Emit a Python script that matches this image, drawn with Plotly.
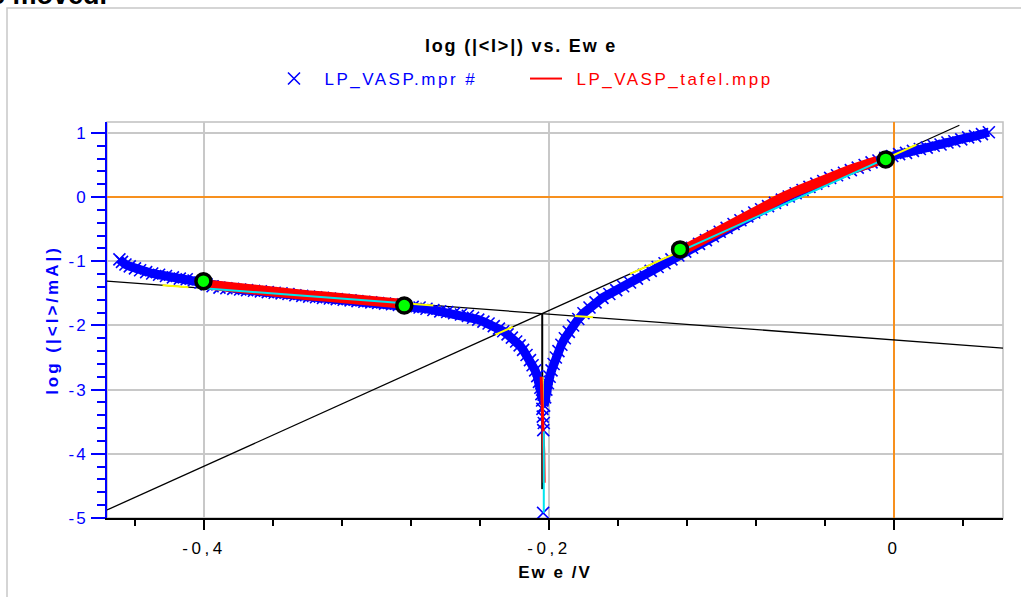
import plotly.graph_objects as go

# ---------------- data ----------------
# measured curve, cathodic branch (E / V, log(|I|/mA))
cath_E = [-0.4490, -0.4475, -0.4455, -0.4430, -0.4400, -0.4370, -0.4335, -0.4300, -0.4260, -0.4220,
          -0.4180, -0.4140, -0.4100, -0.4060, -0.4020, -0.3985, -0.3950, -0.3910, -0.3870, -0.3830,
          -0.3790, -0.3750, -0.3710, -0.3670, -0.3630, -0.3590, -0.3550, -0.3510, -0.3470, -0.3430,
          -0.3390, -0.3350, -0.3310, -0.3270, -0.3230, -0.3190, -0.3150, -0.3110, -0.3070, -0.3030,
          -0.2990, -0.2950, -0.2910, -0.2870, -0.2830, -0.2790, -0.2750, -0.2710, -0.2670, -0.2630,
          -0.2590, -0.2550, -0.2510, -0.2470, -0.2440, -0.2410, -0.2380, -0.2350, -0.2320, -0.2290,
          -0.2265, -0.2240, -0.2215, -0.2190, -0.2170, -0.2150, -0.2130, -0.2110, -0.2095, -0.2080,
          -0.2068, -0.2058, -0.2050, -0.2044, -0.2040]
cath_logI = [-0.97, -1.01, -1.05, -1.08, -1.11, -1.14, -1.17, -1.19, -1.21, -1.23,
             -1.25, -1.27, -1.28, -1.30, -1.33, -1.36, -1.39, -1.41, -1.42, -1.43,
             -1.44, -1.45, -1.46, -1.47, -1.48, -1.49, -1.50, -1.51, -1.53, -1.54,
             -1.55, -1.56, -1.57, -1.58, -1.59, -1.60, -1.61, -1.62, -1.63, -1.64,
             -1.65, -1.66, -1.67, -1.68, -1.70, -1.71, -1.72, -1.74, -1.76, -1.78,
             -1.79, -1.81, -1.83, -1.85, -1.88, -1.91, -1.94, -1.97, -2.01, -2.05,
             -2.09, -2.14, -2.19, -2.25, -2.31, -2.38, -2.46, -2.54, -2.62, -2.70,
             -2.79, -2.88, -2.97, -3.07, -3.17]
# isolated points around the current minimum
min_E = [-0.2038, -0.2036, -0.2030, -0.2033, -0.2034]
min_logI = [-3.30, -3.42, -3.52, -3.63, -4.92]
# measured curve, anodic branch
anod_E = [-0.2028, -0.2022, -0.2015, -0.2006, -0.1996, -0.1985, -0.1973, -0.1960, -0.1945, -0.1928,
          -0.1908, -0.1885, -0.1860, -0.1830, -0.1800, -0.1765, -0.1730, -0.1690, -0.1650, -0.1610,
          -0.1570, -0.1530, -0.1490, -0.1450, -0.1410, -0.1370, -0.1330, -0.1290, -0.1250, -0.1210,
          -0.1170, -0.1130, -0.1090, -0.1050, -0.1010, -0.0970, -0.0930, -0.0890, -0.0850, -0.0810,
          -0.0770, -0.0730, -0.0690, -0.0650, -0.0610, -0.0570, -0.0530, -0.0490, -0.0450, -0.0410,
          -0.0370, -0.0330, -0.0290, -0.0250, -0.0210, -0.0170, -0.0130, -0.0090, -0.0050, -0.0010,
          0.0030, 0.0070, 0.0110, 0.0150, 0.0190, 0.0230, 0.0270, 0.0310, 0.0350, 0.0390,
          0.0430, 0.0470, 0.0510, 0.0550]
anod_logI = [-3.25, -3.12, -3.00, -2.90, -2.80, -2.70, -2.60, -2.50, -2.40, -2.30,
             -2.20, -2.10, -2.00, -1.90, -1.81, -1.72, -1.64, -1.57, -1.51, -1.45,
             -1.39, -1.33, -1.27, -1.21, -1.15, -1.09, -1.03, -0.97, -0.91, -0.85,
             -0.79, -0.73, -0.67, -0.61, -0.54, -0.48, -0.42, -0.36, -0.30, -0.24,
             -0.19, -0.14, -0.09, -0.04, 0.01, 0.06, 0.11, 0.16, 0.21, 0.25,
             0.30, 0.34, 0.38, 0.42, 0.46, 0.50, 0.54, 0.57, 0.61, 0.64,
             0.67, 0.69, 0.72, 0.75, 0.77, 0.80, 0.82, 0.85, 0.87, 0.90,
             0.93, 0.95, 0.98, 1.01]

# Tafel-window data (red)
tafel_cath_E = [-0.3990, -0.3900, -0.3800, -0.3700, -0.3600, -0.3500, -0.3400, -0.3300,
                -0.3200, -0.3100, -0.3000, -0.2900, -0.2860]
tafel_cath_logI = [-1.36, -1.39, -1.42, -1.45, -1.47, -1.50, -1.53, -1.55,
                   -1.58, -1.61, -1.63, -1.65, -1.66]
tafel_anod_E = [-0.1225, -0.1150, -0.1050, -0.0950, -0.0850, -0.0750, -0.0650, -0.0550,
                -0.0450, -0.0350, -0.0250, -0.0150, -0.0100]
tafel_anod_logI = [-0.83, -0.72, -0.57, -0.43, -0.28, -0.15, -0.01, 0.11,
                   0.23, 0.34, 0.43, 0.52, 0.56]
tafel_min_E = [-0.2045, -0.2040, -0.2032, -0.2030, -0.2028]
tafel_min_logI = [-2.80, -3.20, -3.60, -4.00, -4.45]

# Tafel fit lines (black)
fit_cath_E = [-0.4562, 0.0632]
fit_cath_logI = [-1.308, -2.352]
fit_anod_E = [-0.4562, 0.0379]
fit_anod_logI = [-4.875, 1.119]
ecorr_E = [-0.2039, -0.2039]
ecorr_logI = [-1.815, -4.55]

# fit-window segments (cyan)
win_E = [-0.4003, -0.2839, None, -0.1240, -0.0048, None, -0.2030, -0.2030]
win_logI = [-1.420, -1.654, None, -0.845, 0.600, None, -3.65, -4.92]

# highlighted pieces of the fit lines (yellow)
yel_E = [-0.424, -0.409, None, -0.2839, -0.267, None, -0.185, -0.1745, None,
         -0.231, -0.221, None, -0.153, -0.124, None, -0.0048, 0.013, None, -0.2036, -0.2036]
yel_logI = [-1.373, -1.403, None, -1.654, -1.688, None, -1.853, -1.874, None,
            -2.143, -2.022, None, -1.197, -0.845, None, 0.600, 0.816, None, -2.80, -3.45]

# fit-window limits (green)
lim_E = [-0.4003, -0.2839, -0.1240, -0.0048]
lim_logI = [-1.31, -1.69, -0.815, 0.587]

x_tickvals = [-0.4, -0.2, 0]
x_ticktext = ["-0,4", "-0,2", "0"]
y_tickvals = [-5, -4, -3, -2, -1, 0, 1]
y_ticktext = ["-5", "-4", "-3", "-2", "-1", "0", "1"]

# ---------------- figure ----------------
FONT = "Liberation Sans, Arial, sans-serif"
BLUE = "#0000ff"
RED = "#ff0000"
NB = "\u00a0"


def sp(t, ls=2.0, color=None):
    st = f"letter-spacing:{ls}px"
    if color:
        st = f"color:{color};" + st
    return f'<span style="{st}">{t}</span>'


fig = go.Figure()

# black Tafel lines
fig.add_trace(go.Scatter(x=fit_cath_E, y=fit_cath_logI, mode="lines",
                         line=dict(color="black", width=1.3), showlegend=False, hoverinfo="skip"))
fig.add_trace(go.Scatter(x=fit_anod_E, y=fit_anod_logI, mode="lines",
                         line=dict(color="black", width=1.3), showlegend=False, hoverinfo="skip"))
fig.add_trace(go.Scatter(x=ecorr_E, y=ecorr_logI, mode="lines",
                         line=dict(color="black", width=2), showlegend=False, hoverinfo="skip"))

# blue band + markers
fig.add_trace(go.Scatter(x=cath_E + [None] + anod_E, y=cath_logI + [None] + anod_logI,
                         mode="lines", line=dict(color=BLUE, width=9),
                         showlegend=False, hoverinfo="skip"))
fig.add_trace(go.Scatter(x=cath_E + min_E + anod_E, y=cath_logI + min_logI + anod_logI,
                         mode="markers", name=NB * 2 + sp("LP_VASP.mpr #", 2.5, BLUE),
                         marker=dict(symbol="x-thin", size=12, color=BLUE,
                                     line=dict(color=BLUE, width=1.6))))

# yellow
fig.add_trace(go.Scatter(x=yel_E, y=yel_logI, mode="lines",
                         line=dict(color="#ffff00", width=2), showlegend=False, hoverinfo="skip"))

# red Tafel data
fig.add_trace(go.Scatter(x=tafel_cath_E, y=tafel_cath_logI, mode="lines",
                         name=NB * 2 + sp("LP_VASP_tafel.mpp", 2.5, RED),
                         line=dict(color=RED, width=2)))
fig.add_trace(go.Scatter(x=tafel_cath_E + [None] + tafel_anod_E,
                         y=tafel_cath_logI + [None] + tafel_anod_logI,
                         mode="lines", line=dict(color=RED, width=10),
                         showlegend=False, hoverinfo="skip"))
fig.add_trace(go.Scatter(x=tafel_min_E, y=tafel_min_logI, mode="lines",
                         line=dict(color=RED, width=3), showlegend=False, hoverinfo="skip"))

# cyan fit windows
fig.add_trace(go.Scatter(x=win_E, y=win_logI, mode="lines",
                         line=dict(color="#00e5ee", width=2), showlegend=False, hoverinfo="skip"))

# green limits
fig.add_trace(go.Scatter(x=lim_E, y=lim_logI, mode="markers",
                         marker=dict(symbol="circle", size=15, color="#00ff00",
                                     line=dict(color="black", width=3.5)),
                         showlegend=False, hoverinfo="skip"))

W, H = 1021, 597
L, R, T, B = 107, 18, 122, 79
pw, ph = W - L - R, H - T - B


def px2paper_x(px):
    return (px - L) / pw


def px2paper_y(py):
    return (H - B - py) / ph


shapes = [
    # outer frame
    dict(type="rect", xref="paper", yref="paper",
         x0=px2paper_x(7), x1=px2paper_x(1040), y0=px2paper_y(620), y1=px2paper_y(8),
         line=dict(color="#c8c8c8", width=1.5), layer="below"),
    # plot border
    dict(type="rect", xref="paper", yref="paper", x0=0, x1=1, y0=0, y1=1,
         line=dict(color="#c0c0c0", width=1.5), layer="below"),
]

fig.update_layout(
    width=W, height=H, autosize=False,
    margin=dict(l=L, r=R, t=T, b=B, pad=0, autoexpand=False),
    paper_bgcolor="white", plot_bgcolor="white",
    font=dict(family=FONT, size=16, color="black"),
    title=dict(text="<b>" + sp("log (|&lt;I&gt;|) vs. Ew e", 1.8) + "</b>",
               x=521 / W, xref="container", xanchor="center",
               y=1 - 46 / H, yref="container", yanchor="middle",
               font=dict(size=18, color="black", family=FONT)),
    legend=dict(orientation="h", xref="container", yref="container",
                x=273 / W, xanchor="left", y=1 - 79 / H, yanchor="middle",
                font=dict(size=17, family=FONT), bgcolor="rgba(0,0,0,0)",
                itemwidth=32, entrywidth=205, entrywidthmode="pixels",
                traceorder="normal"),
    shapes=shapes,
    annotations=[dict(text="<b>e moved.</b>", xref="paper", yref="paper",
                      x=px2paper_x(-12), y=px2paper_y(12), xanchor="left", yanchor="bottom",
                      showarrow=False, font=dict(size=27, color="black", family=FONT))],
)

fig.update_xaxes(
    range=[-0.4562, 0.0632], tickmode="array", tickvals=x_tickvals,
    ticktext=[sp(t, 3.5) for t in x_ticktext],
    ticks="outside", ticklen=10, tickwidth=1.5, tickcolor="black",
    tickfont=dict(size=17, color="black", family=FONT), ticklabelstandoff=4,
    showline=True, linecolor="black", linewidth=2, automargin=False,
    showgrid=True, gridcolor="#c8c8c8", gridwidth=1.5,
    zeroline=True, zerolinecolor="#f7901e", zerolinewidth=2,
    minor=dict(tickmode="linear", tick0=0, dtick=0.04, ticks="outside", ticklen=6,
               tickcolor="black", tickwidth=1.5, showgrid=False),
    title=dict(text="<b>" + sp("Ew e /V", 2) + "</b>", standoff=9,
               font=dict(size=17, color="black", family=FONT)),
)
fig.update_yaxes(
    range=[-5, 1.17], tickmode="array", tickvals=y_tickvals,
    ticktext=[sp(t, 2) for t in y_ticktext],
    ticks="outside", ticklen=14, tickwidth=2, tickcolor=BLUE,
    tickfont=dict(size=17, color=BLUE, family=FONT),
    showline=True, linecolor=BLUE, linewidth=2, automargin=False,
    showgrid=True, gridcolor="#c8c8c8", gridwidth=1.5,
    zeroline=True, zerolinecolor="#f7901e", zerolinewidth=2,
    minor=dict(tickmode="linear", tick0=0, dtick=0.2, ticks="outside", ticklen=8,
               tickcolor=BLUE, tickwidth=2, showgrid=False),
    title=dict(text="<b>" + sp("log (|&lt;I&gt;/mA|)", 3) + "</b>", standoff=6,
               font=dict(size=17, color=BLUE, family=FONT)),
)

fig.write_html("out.html", config={"displayModeBar": False},
               post_script="document.body.style.margin='0px';")
